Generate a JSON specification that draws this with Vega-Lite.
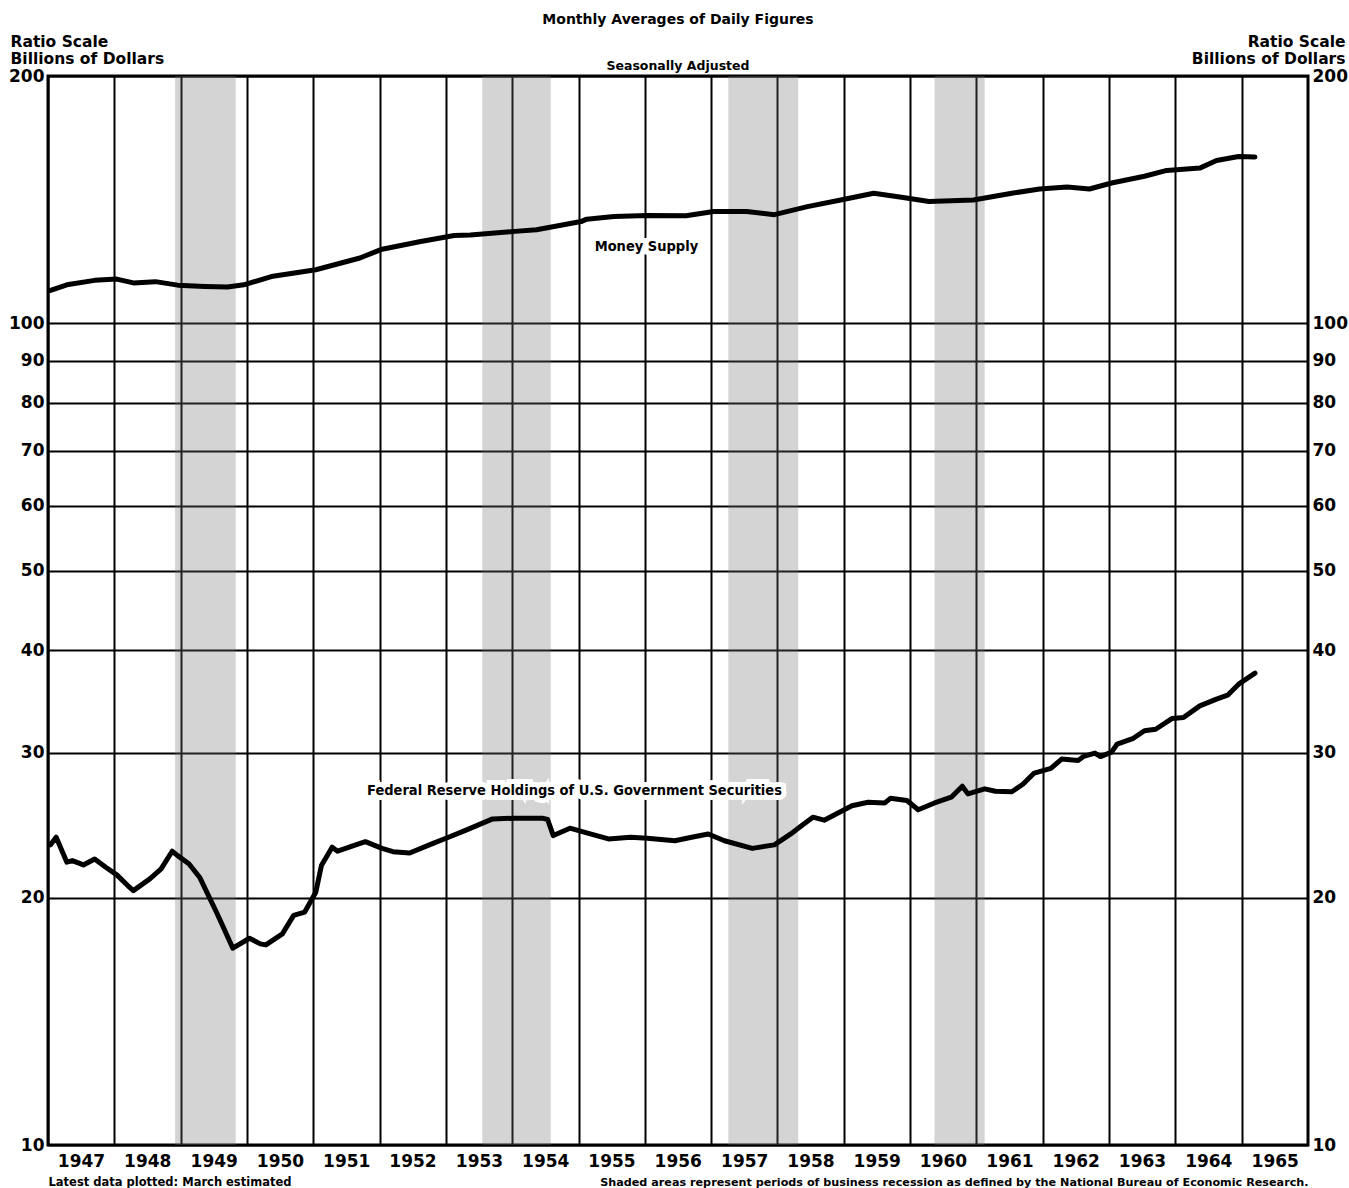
{
  "$schema": "https://vega.github.io/schema/vega-lite/v6.json",
  "autosize": {"type": "none"},
  "width": 1260,
  "height": 1069,
  "padding": {"left": 48, "top": 76, "right": 41, "bottom": 43},
  "background": "white",
  "title": {
    "text": "Monthly Averages of Daily Figures",
    "subtitle": "Seasonally Adjusted",
    "anchor": "middle",
    "frame": "group",
    "offset": -38,
    "subtitlePadding": 33,
    "font": "DejaVu Sans",
    "fontSize": 14,
    "fontWeight": "bold",
    "color": "black",
    "subtitleFont": "DejaVu Sans",
    "subtitleFontSize": 12.5,
    "subtitleFontWeight": "bold",
    "subtitleColor": "black"
  },
  "datasets": {
    "recessions": [
      {"start": "1948-12-01", "end": "1949-10-31"},
      {"start": "1953-07-20", "end": "1954-08-01"},
      {"start": "1957-04-05", "end": "1958-04-25"},
      {"start": "1960-05-15", "end": "1961-02-15"}
    ],
    "series": [
      {"date": "1947-01-15", "name": "Money Supply", "value": 109.7},
      {"date": "1947-04-15", "name": "Money Supply", "value": 111.4},
      {"date": "1947-09-15", "name": "Money Supply", "value": 112.8},
      {"date": "1948-01-15", "name": "Money Supply", "value": 113.2},
      {"date": "1948-04-15", "name": "Money Supply", "value": 112.0},
      {"date": "1948-08-15", "name": "Money Supply", "value": 112.4},
      {"date": "1948-12-15", "name": "Money Supply", "value": 111.3},
      {"date": "1949-05-15", "name": "Money Supply", "value": 110.9},
      {"date": "1949-09-15", "name": "Money Supply", "value": 110.7},
      {"date": "1949-12-15", "name": "Money Supply", "value": 111.4},
      {"date": "1950-05-15", "name": "Money Supply", "value": 114.0},
      {"date": "1951-01-15", "name": "Money Supply", "value": 116.2},
      {"date": "1951-09-15", "name": "Money Supply", "value": 120.1},
      {"date": "1952-01-15", "name": "Money Supply", "value": 123.1},
      {"date": "1952-08-15", "name": "Money Supply", "value": 125.8},
      {"date": "1953-02-15", "name": "Money Supply", "value": 127.9},
      {"date": "1953-05-15", "name": "Money Supply", "value": 128.1},
      {"date": "1954-01-15", "name": "Money Supply", "value": 129.4},
      {"date": "1954-05-15", "name": "Money Supply", "value": 130.0},
      {"date": "1955-01-15", "name": "Money Supply", "value": 133.0},
      {"date": "1955-02-15", "name": "Money Supply", "value": 133.9},
      {"date": "1955-07-15", "name": "Money Supply", "value": 134.9},
      {"date": "1956-01-15", "name": "Money Supply", "value": 135.3},
      {"date": "1956-08-15", "name": "Money Supply", "value": 135.2},
      {"date": "1957-01-15", "name": "Money Supply", "value": 136.8},
      {"date": "1957-07-15", "name": "Money Supply", "value": 136.8},
      {"date": "1957-12-15", "name": "Money Supply", "value": 135.6},
      {"date": "1958-06-15", "name": "Money Supply", "value": 138.7},
      {"date": "1958-12-15", "name": "Money Supply", "value": 141.3},
      {"date": "1959-06-15", "name": "Money Supply", "value": 144.0},
      {"date": "1959-11-15", "name": "Money Supply", "value": 142.4},
      {"date": "1960-04-15", "name": "Money Supply", "value": 140.7},
      {"date": "1960-12-15", "name": "Money Supply", "value": 141.3},
      {"date": "1961-07-15", "name": "Money Supply", "value": 144.0},
      {"date": "1961-12-15", "name": "Money Supply", "value": 145.7},
      {"date": "1962-05-15", "name": "Money Supply", "value": 146.5},
      {"date": "1962-09-15", "name": "Money Supply", "value": 145.7},
      {"date": "1963-01-15", "name": "Money Supply", "value": 148.2},
      {"date": "1963-07-15", "name": "Money Supply", "value": 151.0},
      {"date": "1963-11-15", "name": "Money Supply", "value": 153.5},
      {"date": "1964-05-15", "name": "Money Supply", "value": 154.5},
      {"date": "1964-08-15", "name": "Money Supply", "value": 157.8},
      {"date": "1964-12-15", "name": "Money Supply", "value": 159.6},
      {"date": "1965-03-15", "name": "Money Supply", "value": 159.4},

      {"date": "1947-01-15", "name": "Federal Reserve Holdings", "value": 23.19},
      {"date": "1947-02-15", "name": "Federal Reserve Holdings", "value": 23.69},
      {"date": "1947-04-15", "name": "Federal Reserve Holdings", "value": 22.09},
      {"date": "1947-05-15", "name": "Federal Reserve Holdings", "value": 22.19},
      {"date": "1947-07-15", "name": "Federal Reserve Holdings", "value": 21.92},
      {"date": "1947-09-15", "name": "Federal Reserve Holdings", "value": 22.29},
      {"date": "1947-11-15", "name": "Federal Reserve Holdings", "value": 21.78},
      {"date": "1948-01-15", "name": "Federal Reserve Holdings", "value": 21.32},
      {"date": "1948-03-15", "name": "Federal Reserve Holdings", "value": 20.69},
      {"date": "1948-04-15", "name": "Federal Reserve Holdings", "value": 20.40},
      {"date": "1948-07-15", "name": "Federal Reserve Holdings", "value": 21.08},
      {"date": "1948-09-15", "name": "Federal Reserve Holdings", "value": 21.68},
      {"date": "1948-11-15", "name": "Federal Reserve Holdings", "value": 22.78},
      {"date": "1948-12-15", "name": "Federal Reserve Holdings", "value": 22.50},
      {"date": "1949-02-15", "name": "Federal Reserve Holdings", "value": 21.99},
      {"date": "1949-04-15", "name": "Federal Reserve Holdings", "value": 21.18},
      {"date": "1949-07-15", "name": "Federal Reserve Holdings", "value": 19.24},
      {"date": "1949-08-15", "name": "Federal Reserve Holdings", "value": 18.59},
      {"date": "1949-10-15", "name": "Federal Reserve Holdings", "value": 17.36},
      {"date": "1950-01-15", "name": "Federal Reserve Holdings", "value": 17.85},
      {"date": "1950-03-15", "name": "Federal Reserve Holdings", "value": 17.57},
      {"date": "1950-04-15", "name": "Federal Reserve Holdings", "value": 17.52},
      {"date": "1950-07-15", "name": "Federal Reserve Holdings", "value": 18.07},
      {"date": "1950-09-15", "name": "Federal Reserve Holdings", "value": 19.03},
      {"date": "1950-11-15", "name": "Federal Reserve Holdings", "value": 19.21},
      {"date": "1951-01-15", "name": "Federal Reserve Holdings", "value": 20.31},
      {"date": "1951-02-15", "name": "Federal Reserve Holdings", "value": 21.88},
      {"date": "1951-04-15", "name": "Federal Reserve Holdings", "value": 23.04},
      {"date": "1951-05-15", "name": "Federal Reserve Holdings", "value": 22.78},
      {"date": "1951-08-15", "name": "Federal Reserve Holdings", "value": 23.16},
      {"date": "1951-10-15", "name": "Federal Reserve Holdings", "value": 23.40},
      {"date": "1952-01-15", "name": "Federal Reserve Holdings", "value": 22.96},
      {"date": "1952-03-15", "name": "Federal Reserve Holdings", "value": 22.75},
      {"date": "1952-06-15", "name": "Federal Reserve Holdings", "value": 22.67},
      {"date": "1952-10-15", "name": "Federal Reserve Holdings", "value": 23.25},
      {"date": "1953-01-15", "name": "Federal Reserve Holdings", "value": 23.69},
      {"date": "1953-04-15", "name": "Federal Reserve Holdings", "value": 24.13},
      {"date": "1953-09-15", "name": "Federal Reserve Holdings", "value": 24.94},
      {"date": "1954-01-15", "name": "Federal Reserve Holdings", "value": 24.99},
      {"date": "1954-06-15", "name": "Federal Reserve Holdings", "value": 24.99},
      {"date": "1954-07-15", "name": "Federal Reserve Holdings", "value": 24.90},
      {"date": "1954-08-15", "name": "Federal Reserve Holdings", "value": 23.80},
      {"date": "1954-11-15", "name": "Federal Reserve Holdings", "value": 24.30},
      {"date": "1955-02-15", "name": "Federal Reserve Holdings", "value": 23.98},
      {"date": "1955-06-15", "name": "Federal Reserve Holdings", "value": 23.58},
      {"date": "1955-10-15", "name": "Federal Reserve Holdings", "value": 23.69},
      {"date": "1956-01-15", "name": "Federal Reserve Holdings", "value": 23.62},
      {"date": "1956-06-15", "name": "Federal Reserve Holdings", "value": 23.46},
      {"date": "1956-09-15", "name": "Federal Reserve Holdings", "value": 23.69},
      {"date": "1956-12-15", "name": "Federal Reserve Holdings", "value": 23.91},
      {"date": "1957-03-15", "name": "Federal Reserve Holdings", "value": 23.46},
      {"date": "1957-08-15", "name": "Federal Reserve Holdings", "value": 22.96},
      {"date": "1957-12-15", "name": "Federal Reserve Holdings", "value": 23.19},
      {"date": "1958-03-15", "name": "Federal Reserve Holdings", "value": 23.91},
      {"date": "1958-05-15", "name": "Federal Reserve Holdings", "value": 24.48},
      {"date": "1958-07-15", "name": "Federal Reserve Holdings", "value": 25.06},
      {"date": "1958-09-15", "name": "Federal Reserve Holdings", "value": 24.85},
      {"date": "1959-02-15", "name": "Federal Reserve Holdings", "value": 25.88},
      {"date": "1959-05-15", "name": "Federal Reserve Holdings", "value": 26.13},
      {"date": "1959-08-15", "name": "Federal Reserve Holdings", "value": 26.08},
      {"date": "1959-09-15", "name": "Federal Reserve Holdings", "value": 26.42},
      {"date": "1959-12-15", "name": "Federal Reserve Holdings", "value": 26.26},
      {"date": "1960-02-15", "name": "Federal Reserve Holdings", "value": 25.59},
      {"date": "1960-05-15", "name": "Federal Reserve Holdings", "value": 26.08},
      {"date": "1960-08-15", "name": "Federal Reserve Holdings", "value": 26.50},
      {"date": "1960-10-15", "name": "Federal Reserve Holdings", "value": 27.33},
      {"date": "1960-11-15", "name": "Federal Reserve Holdings", "value": 26.75},
      {"date": "1961-02-15", "name": "Federal Reserve Holdings", "value": 27.13},
      {"date": "1961-04-15", "name": "Federal Reserve Holdings", "value": 26.95},
      {"date": "1961-07-15", "name": "Federal Reserve Holdings", "value": 26.91},
      {"date": "1961-09-15", "name": "Federal Reserve Holdings", "value": 27.50},
      {"date": "1961-11-15", "name": "Federal Reserve Holdings", "value": 28.36},
      {"date": "1962-02-15", "name": "Federal Reserve Holdings", "value": 28.74},
      {"date": "1962-04-15", "name": "Federal Reserve Holdings", "value": 29.49},
      {"date": "1962-07-15", "name": "Federal Reserve Holdings", "value": 29.38},
      {"date": "1962-08-15", "name": "Federal Reserve Holdings", "value": 29.72},
      {"date": "1962-10-15", "name": "Federal Reserve Holdings", "value": 29.99},
      {"date": "1962-11-15", "name": "Federal Reserve Holdings", "value": 29.70},
      {"date": "1963-01-15", "name": "Federal Reserve Holdings", "value": 30.07},
      {"date": "1963-02-15", "name": "Federal Reserve Holdings", "value": 30.76},
      {"date": "1963-05-15", "name": "Federal Reserve Holdings", "value": 31.26},
      {"date": "1963-07-15", "name": "Federal Reserve Holdings", "value": 31.93},
      {"date": "1963-09-15", "name": "Federal Reserve Holdings", "value": 32.06},
      {"date": "1963-12-15", "name": "Federal Reserve Holdings", "value": 33.05},
      {"date": "1964-02-15", "name": "Federal Reserve Holdings", "value": 33.13},
      {"date": "1964-05-15", "name": "Federal Reserve Holdings", "value": 34.23},
      {"date": "1964-08-15", "name": "Federal Reserve Holdings", "value": 34.88},
      {"date": "1964-10-15", "name": "Federal Reserve Holdings", "value": 35.27},
      {"date": "1964-12-15", "name": "Federal Reserve Holdings", "value": 36.38},
      {"date": "1965-03-15", "name": "Federal Reserve Holdings", "value": 37.52}
    ],
    "labels": [
      {"date": "1956-01-10", "value": 124.0, "label": "Money Supply"},
      {"date": "1954-12-10", "value": 27.0, "label": "Federal Reserve Holdings of U.S. Government Securities"}
    ]
  },
  "layer": [
    {
      "description": "Recession periods (NBER), shaded full height",
      "data": {"name": "recessions"},
      "mark": {"type": "rect", "fill": "#6f6f6f", "opacity": 0.3},
      "encoding": {
        "x": {
          "field": "start",
          "type": "temporal",
          "scale": {
            "type": "utc",
            "nice": false,
            "domain": [
              {"year": 1947, "month": 1, "date": 1, "utc": true},
              {"year": 1966, "month": 1, "date": 1, "utc": true}
            ]
          },
          "axis": {
            "orient": "bottom",
            "values": [
              {"year": 1947, "utc": true}, {"year": 1948, "utc": true}, {"year": 1949, "utc": true},
              {"year": 1950, "utc": true}, {"year": 1951, "utc": true}, {"year": 1952, "utc": true},
              {"year": 1953, "utc": true}, {"year": 1954, "utc": true}, {"year": 1955, "utc": true},
              {"year": 1956, "utc": true}, {"year": 1957, "utc": true}, {"year": 1958, "utc": true},
              {"year": 1959, "utc": true}, {"year": 1960, "utc": true}, {"year": 1961, "utc": true},
              {"year": 1962, "utc": true}, {"year": 1963, "utc": true}, {"year": 1964, "utc": true},
              {"year": 1965, "utc": true}
            ],
            "format": "%Y",
            "labelOffset": 33,
            "labelPadding": 8,
            "labelFontSize": 17,
            "labelBaseline": "top",
            "grid": true,
            "ticks": false,
            "domain": false,
            "labelFlush": false,
            "labelOverlap": false,
            "title": "Latest data plotted: March estimated",
            "titleX": 0,
            "titleY": 40,
            "titleAlign": "left",
            "titleAnchor": "start",
            "titleBaseline": "alphabetic",
            "titleFontSize": 11.5
          }
        },
        "x2": {"field": "end"}
      }
    },
    {
      "description": "Money supply and Federal Reserve holdings, ratio scale",
      "data": {"name": "series"},
      "mark": {"type": "line", "color": "black", "strokeWidth": 5, "strokeJoin": "round", "strokeCap": "round"},
      "encoding": {
        "x": {
          "field": "date",
          "type": "temporal",
          "axis": {
            "orient": "bottom",
            "labels": false,
            "ticks": false,
            "domain": false,
            "grid": false,
            "title": "Shaded areas represent periods of business recession as defined by the National Bureau of Economic Research.",
            "titleX": 1260,
            "titleY": 40,
            "titleAlign": "right",
            "titleAnchor": "end",
            "titleBaseline": "alphabetic",
            "titleFontSize": 11.2
          }
        },
        "y": {
          "field": "value",
          "type": "quantitative",
          "scale": {"type": "log", "domain": [10, 200], "nice": false, "zero": false},
          "axis": {
            "orient": "left",
            "values": [10, 20, 30, 40, 50, 60, 70, 80, 90, 100, 200],
            "format": "d",
            "grid": true,
            "ticks": false,
            "domain": false,
            "labelPadding": 4,
            "labelFontSize": 17,
            "title": ["Ratio Scale", "Billions of Dollars"],
            "titleAngle": 0,
            "titleAlign": "left",
            "titleBaseline": "alphabetic",
            "titleX": -38,
            "titleY": -30,
            "titleLineHeight": 17,
            "titleFontSize": 15.5
          }
        },
        "detail": {"field": "name"}
      }
    },
    {
      "description": "White knock-out behind the series names",
      "data": {"name": "labels"},
      "mark": {
        "type": "text",
        "font": "Liberation Sans Narrow, DejaVu Sans Condensed, sans-serif",
        "fontWeight": "bold",
        "fontSize": 14.5,
        "fill": "white",
        "stroke": "white",
        "strokeWidth": 10,
        "align": "center",
        "baseline": "middle"
      },
      "encoding": {
        "x": {"field": "date", "type": "temporal", "axis": null},
        "y": {"field": "value", "type": "quantitative", "axis": null},
        "text": {"field": "label"}
      }
    },
    {
      "description": "Series names; this layer also carries the right-hand ratio axis",
      "data": {"name": "labels"},
      "mark": {
        "type": "text",
        "font": "Liberation Sans Narrow, DejaVu Sans Condensed, sans-serif",
        "fontWeight": "bold",
        "fontSize": 14.5,
        "fill": "black",
        "align": "center",
        "baseline": "middle"
      },
      "encoding": {
        "x": {"field": "date", "type": "temporal", "axis": null},
        "y": {
          "field": "value",
          "type": "quantitative",
          "axis": {
            "orient": "right",
            "values": [10, 20, 30, 40, 50, 60, 70, 80, 90, 100, 200],
            "format": "d",
            "grid": false,
            "ticks": false,
            "domain": false,
            "labelPadding": 4,
            "labelFontSize": 17,
            "title": ["Ratio Scale", "Billions of Dollars"],
            "titleAngle": 0,
            "titleAlign": "right",
            "titleBaseline": "alphabetic",
            "titleX": 37,
            "titleY": -30,
            "titleLineHeight": 17,
            "titleFontSize": 15.5
          }
        },
        "text": {"field": "label"}
      }
    }
  ],
  "resolve": {"axis": {"x": "independent", "y": "independent"}},
  "config": {
    "view": {"stroke": "black", "strokeWidth": 3},
    "axis": {
      "labelFont": "DejaVu Sans",
      "labelFontWeight": "bold",
      "labelColor": "black",
      "titleFont": "DejaVu Sans",
      "titleFontWeight": "bold",
      "titleColor": "black",
      "gridColor": "black",
      "gridWidth": 2,
      "gridOpacity": 1
    }
  }
}
